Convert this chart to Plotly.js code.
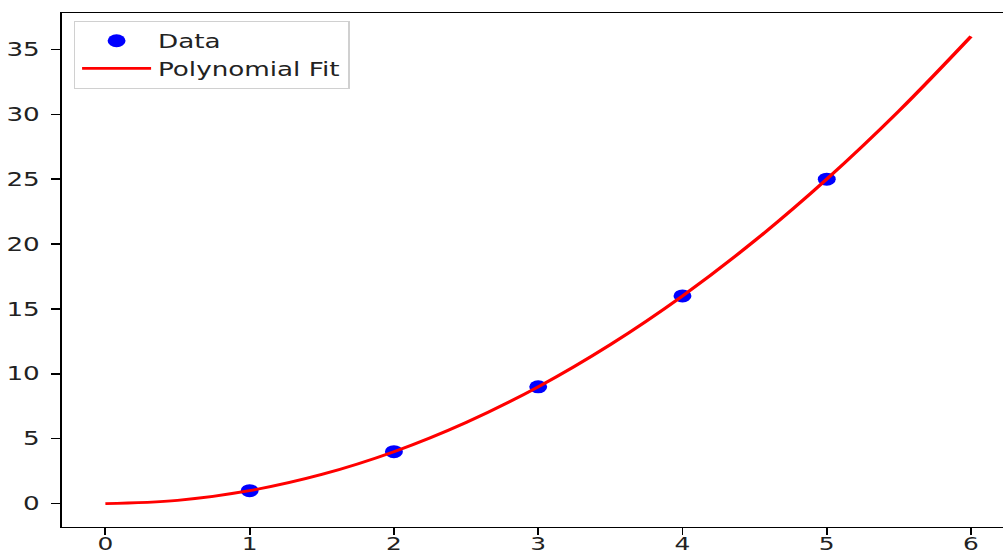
<!DOCTYPE html>
<html>
<head>
<meta charset="utf-8">
<script src="https://cdn.plot.ly/plotly-3.0.1.min.js"></script>
<style>
html,body{margin:0;padding:0;overflow:hidden;background:#fff;width:1003px;height:556px;}
#chart{width:736px;height:556px;transform:scaleX(1.38);transform-origin:0 0;}
</style>
</head>
<body>
<div id="chart"></div>
<script>
// Data points
const dataX = [1, 2, 3, 4, 5];
const dataY = [1, 4, 9, 16, 25];
// Fitted curve
const fitX = [0, 0.5, 1, 1.5, 2, 2.5, 3, 3.5, 4, 4.5, 5, 5.5, 6];
const fitY = [0, 0.25, 1, 2.25, 4, 6.25, 9, 12.25, 16, 20.25, 25, 30.25, 36];
const xTicks = [0, 1, 2, 3, 4, 5, 6];
const yTicks = [0, 5, 10, 15, 20, 25, 30, 35];

const traces = [
  {x: dataX, y: dataY, mode: 'markers', type: 'scatter', name: 'Data',
   marker: {color: '#0000ff', size: 13}},
  {x: fitX, y: fitY, mode: 'lines', type: 'scatter', name: 'Polynomial Fit',
   line: {color: '#ff0000', width: 2.8, shape: 'spline'}}
];

const axisCommon = {
  showgrid: false, zeroline: false, showline: true, linecolor: '#000', linewidth: 1.4,
  ticks: 'outside', ticklen: 7, tickwidth: 1.4, tickcolor: '#000',
  tickfont: {family: 'DejaVu Sans', size: 19, color: '#222'}
};

const layout = {
  width: 736, height: 556,
  margin: {l: 45, r: 1, t: 13, b: 29},
  paper_bgcolor: '#fff', plot_bgcolor: '#fff',
  showlegend: true,
  xaxis: Object.assign({}, axisCommon, {range: [-0.3, 6.3], tickvals: xTicks, mirror: true,
    ticklabelstandoff: -7, tickfont: {family: 'DejaVu Sans', size: 18, color: '#222'}}),
  yaxis: Object.assign({}, axisCommon, {range: [-1.8, 37.8], tickvals: yTicks, mirror: true, ticklabelstandoff: 4}),
  legend: {x: 0.012, y: 0.985, xanchor: 'left', yanchor: 'top',
    bgcolor: 'rgba(255,255,255,0.8)', bordercolor: '#d0d0d0', borderwidth: 1.2,
    font: {family: 'DejaVu Sans', size: 19, color: '#222'}, itemwidth: 50}
};

Plotly.newPlot('chart', traces, layout, {displayModeBar: false, staticPlot: true});
</script>
</body>
</html>
